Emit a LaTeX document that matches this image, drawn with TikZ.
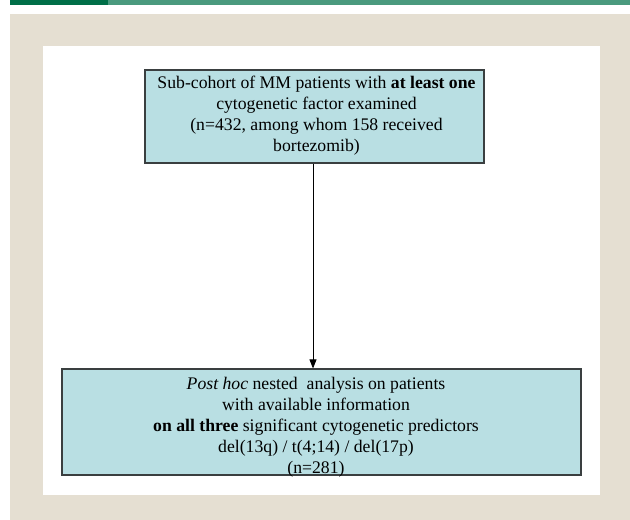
\documentclass[tikz,border=0pt]{standalone}
\usepackage{fontspec}
\setmainfont{Liberation Serif}
\usetikzlibrary{arrows.meta}
\definecolor{darkgreen}{HTML}{006F48}
\definecolor{lightgreen}{HTML}{4A9A7E}
\definecolor{beige}{HTML}{E5DFD2}
\definecolor{boxfill}{HTML}{B9DFE3}
\definecolor{boxline}{HTML}{3A3F40}
\tikzset{
  flowbox/.style={draw=boxline, line width=1.2pt, fill=boxfill, inner sep=0pt},
  flowtext/.style={align=center, inner sep=0pt, font=\fontsize{17.7}{21}\selectfont},
  flowarrow/.style={draw=black, line width=0.8pt, -{Triangle[length=9pt,width=7pt]}}
}
\begin{document}
\begin{tikzpicture}[x=1pt,y=-1pt]
\useasboundingbox (0,0) rectangle (630,520);
\fill[white] (0,0) rectangle (630,520);
% top bars
\fill[darkgreen] (10,0) rectangle (108,5);
\fill[lightgreen] (108,0) rectangle (630,5);
% panel
\fill[beige] (10,14) rectangle (630,520);
\fill[white] (43,46) rectangle (600,495);
% boxes
\node[flowbox, minimum width=339pt, minimum height=93pt] (box1) at (314.5,116.5) {};
\node[flowbox, minimum width=519pt, minimum height=106pt] (box2) at (321.5,422) {};
\node[flowtext] (t1) at (316.5,115.5) {Sub-cohort of MM patients with \textbf{at least one}\\
cytogenetic factor examined\\
(n=432, among whom 158 received\\
bortezomib)};
\node[flowtext] (t2) at (316,427.5) {\textit{Post hoc} nested\ \ analysis on patients\\
with available information\\
\textbf{on all three} significant cytogenetic predictors\\
del(13q) / t(4;14) / del(17p)\\
(n=281)};
\draw[flowarrow] ([xshift=-1.5pt]box1.south) -- ([xshift=-1.5pt]box1.south |- box2.north);
\end{tikzpicture}
\end{document}
